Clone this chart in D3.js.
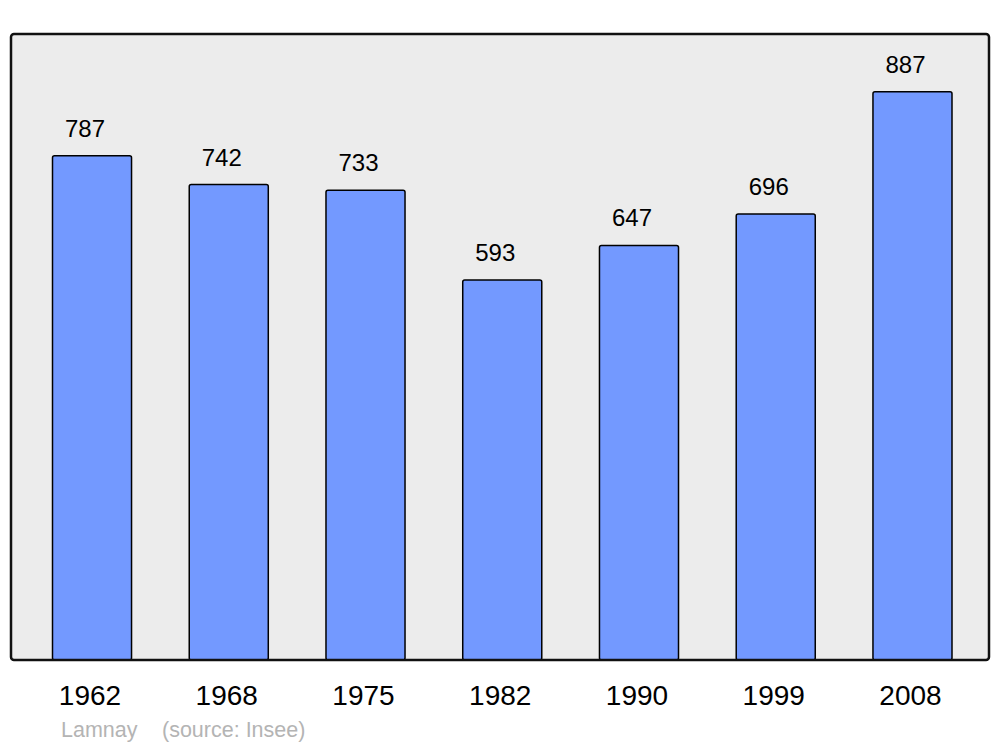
<!DOCTYPE html>
<html><head><meta charset="utf-8">
<script src="https://cdn.jsdelivr.net/npm/d3@7"></script>
<style>html,body{margin:0;padding:0;background:#fff;}svg{display:block;font-family:"Liberation Sans",Arial,sans-serif;}</style>
</head><body>
<script>
const years = ["1962","1968","1975","1982","1990","1999","2008"];
const population = [787,742,733,593,647,696,887];
const commune = "Lamnay";
const sourceText = "(source: Insee)";

const W = 1000, H = 747;
const svg = d3.select("body").append("svg").attr("width", W).attr("height", H);

const frame = {x0: 11, y0: 34, x1: 989, y1: 660};

const x = d3.scaleBand().domain(years).range([52.5, 952]).paddingInner(0.422).paddingOuter(0);
const y = d3.scaleLinear().domain([0, 977]).range([frame.y1, frame.y0]);

svg.append("rect")
  .attr("x", frame.x0).attr("y", frame.y0)
  .attr("width", frame.x1 - frame.x0).attr("height", frame.y1 - frame.y0)
  .attr("rx", 3).attr("fill", "#ececec").attr("stroke", "none");

const data = years.map((yr, i) => ({year: yr, value: population[i]}));

svg.selectAll("rect.bar").data(data).enter().append("rect")
  .attr("class", "bar")
  .attr("x", d => x(d.year))
  .attr("y", d => y(d.value))
  .attr("width", x.bandwidth())
  .attr("height", d => y(0) - y(d.value))
  .attr("rx", 2)
  .attr("fill", "#7399ff")
  .attr("stroke", "#000")
  .attr("stroke-width", 1.5);

svg.append("rect")
  .attr("x", frame.x0).attr("y", frame.y0)
  .attr("width", frame.x1 - frame.x0).attr("height", frame.y1 - frame.y0)
  .attr("rx", 3).attr("fill", "none").attr("stroke", "#111").attr("stroke-width", 2.5);

svg.selectAll("text.val").data(data).enter().append("text")
  .attr("class", "val")
  .attr("x", d => x(d.year) + x.bandwidth() / 2 - 7)
  .attr("y", d => y(d.value) - 19)
  .attr("text-anchor", "middle")
  .attr("font-size", 24)
  .attr("fill", "#000")
  .text(d => d.value);

svg.selectAll("text.year").data(data).enter().append("text")
  .attr("class", "year")
  .attr("x", d => x(d.year) + x.bandwidth() / 2 - 2)
  .attr("y", 705)
  .attr("text-anchor", "middle")
  .attr("font-size", 28)
  .attr("fill", "#000")
  .text(d => d.year);

svg.append("text")
  .attr("x", 61).attr("y", 737)
  .attr("font-size", 21.5)
  .attr("fill", "#b4b4b4")
  .text(commune);

svg.append("text")
  .attr("x", 162).attr("y", 737)
  .attr("font-size", 21.5)
  .attr("fill", "#b4b4b4")
  .text(sourceText);
</script>
</body></html>
